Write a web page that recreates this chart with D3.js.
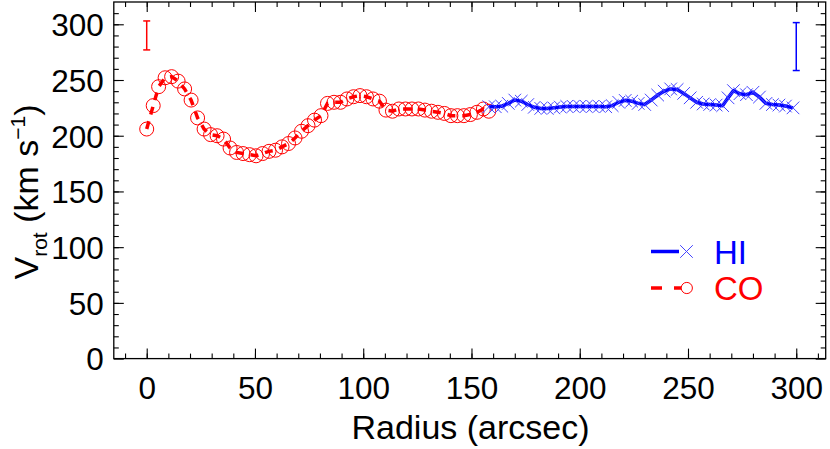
<!DOCTYPE html>
<html>
<head>
<meta charset="utf-8">
<script src="https://d3js.org/d3.v7.min.js"></script>
<style>
  html, body { margin: 0; padding: 0; background: #fff; }
  svg { display: block; }
  text { font-family: "Liberation Sans", Arial, Helvetica, sans-serif; }
</style>
</head>
<body>
<svg id="chart" width="830" height="449"></svg>
<script>
// ---- data ----
const coRadius = [0, 3, 5.5, 8.5, 11.5, 14.5, 17.5, 20.5, 23.5, 26.5, 29.5, 32.5, 35.5, 38.5, 41.5, 44.5, 47.5, 50.5, 53.5, 56.5, 59.5, 62.5, 65.5, 68.5, 71.5, 74.5, 77.5, 80.5, 83.5, 86.5, 89.5, 92.5, 95.5, 98.5, 101.5, 104.5, 107.5, 110.5, 113.5, 116.5, 119.5, 122.5, 125.5, 128.5, 131.5, 134.5, 137.5, 140.5, 143.5, 146.5, 149.5, 152.5, 155.5, 158];
const coVrot   = [206, 227, 244, 252, 253, 249, 242, 232, 216, 206, 201, 200, 197, 189, 185, 184, 183, 182, 184, 186, 187, 190, 193, 198, 204, 209, 214, 218, 229, 230, 230, 233, 235, 236, 235, 233, 231, 223, 222, 224, 224, 224, 224, 223, 222, 221, 220, 218, 218, 218, 219, 221, 224, 222];

const hiRadius = [158, 161, 164, 167, 170, 173, 176, 179, 182, 185, 188, 191, 194, 197, 200, 203, 206, 209, 212, 215, 218, 221, 224, 227, 230, 233, 236, 239, 242, 245, 248, 251, 254, 257, 260, 263, 266, 268.5, 271, 274, 277, 280, 283, 286, 289, 292, 295, 298.5];
const hiVrot   = [226, 226, 226.5, 229, 232, 231, 228, 225.5, 224.5, 224.5, 225, 225.7, 226.3, 226.3, 226.3, 226.3, 226.3, 226.3, 226, 227, 230, 231.7, 231, 229, 228, 232, 236.5, 240, 242, 241.5, 238, 234, 230, 228.5, 228, 227.5, 227, 234, 240.5, 237.7, 236.8, 239, 234.7, 229, 228, 227.5, 226.6, 225];

// representative error bars: [radius, centre, half-length]
const coError = [0, 290, 13];
const hiError = [300, 280, 21.5];

const xTicks = [0, 50, 100, 150, 200, 250, 300];
const yTicks = [0, 50, 100, 150, 200, 250, 300];
const legendLabels = ["HI", "CO"];

// ---- layout ----
const L = 113.8, R = 825.7, T = 2, B = 358.6;
const x = d3.scaleLinear().domain([-15.2, 313.6]).range([L, R]);
const y = d3.scaleLinear().domain([0, 320]).range([B, T]);

const svg = d3.select("#chart");
const red = "#ff0000", blue = "#0000ff";

// frame
svg.append("rect").attr("x", L).attr("y", T).attr("width", R - L).attr("height", B - T)
  .attr("fill", "none").attr("stroke", "#000").attr("stroke-width", 1.3);

// ticks (inward on all sides)
const xMinor = d3.range(-10, 311, 10);
const yMinor = d3.range(10, 320, 10);
function addAxis(axisFn, scale, ticks, minor, pos, label) {
  const gMinor = svg.append("g").attr("transform", pos)
    .call(axisFn(scale).tickValues(minor).tickSize(5).tickFormat(""));
  const gMajor = svg.append("g").attr("transform", pos)
    .call(axisFn(scale).tickValues(ticks).tickSize(10).tickFormat(label ? d3.format("d") : ""));
  [gMinor, gMajor].forEach(g => {
    g.select(".domain").remove();
    g.selectAll(".tick line").attr("stroke", "#000").attr("stroke-width", 1.1);
  });
  return gMajor;
}
const tickFont = 31.5;
const gb = addAxis(d3.axisTop, x, xTicks, xMinor, `translate(0,${B})`, true);
gb.selectAll(".tick text").attr("y", 40.5).attr("dy", 0).attr("font-size", tickFont).attr("fill", "#000");
addAxis(d3.axisBottom, x, xTicks, xMinor, `translate(0,${T})`, false);
const gl = addAxis(d3.axisRight, y, yTicks, yMinor, `translate(${L},0)`, true);
gl.selectAll(".tick text").attr("x", -10).attr("dy", "0.36em").attr("text-anchor", "end")
  .attr("font-size", tickFont).attr("fill", "#000");
addAxis(d3.axisLeft, y, yTicks, yMinor, `translate(${R},0)`, false);

// axis titles
svg.append("text").attr("x", 470.5).attr("y", 439).attr("text-anchor", "middle")
  .attr("font-size", 34).attr("fill", "#000").text("Radius (arcsec)");
const yt = svg.append("text").attr("transform", `translate(38,192) rotate(-90)`)
  .attr("text-anchor", "middle").attr("font-size", 34).attr("fill", "#000");
yt.append("tspan").text("V");
yt.append("tspan").attr("font-size", 21).attr("dy", 9).text("rot");
yt.append("tspan").attr("dy", -9).text(" (km s");
yt.append("tspan").attr("font-size", 21).attr("dy", -13).text("−1");
yt.append("tspan").attr("dy", 13).text(")");

// CO series
const coData = coRadius.map((r, i) => [r, coVrot[i]]);
svg.append("g").selectAll("circle").data(coData).join("circle")
  .attr("cx", d => x(d[0])).attr("cy", d => y(d[1])).attr("r", 7)
  .attr("fill", "none").attr("stroke", red).attr("stroke-width", 1);
svg.append("path").datum(coData)
  .attr("d", d3.line().x(d => x(d[0])).y(d => y(d[1])))
  .attr("fill", "none").attr("stroke", red).attr("stroke-width", 3.5).attr("stroke-dasharray", "8,7");

// HI series
const hiData = hiRadius.map((r, i) => [r, hiVrot[i]]);
svg.append("path").datum(hiData)
  .attr("d", d3.line().x(d => x(d[0])).y(d => y(d[1])))
  .attr("fill", "none").attr("stroke", blue).attr("stroke-width", 3.5);
const cs = 6.3;
const crossPath = d => {
  const cx = x(d[0]), cy = y(d[1]);
  return `M${cx - cs},${cy - cs}L${cx + cs},${cy + cs}M${cx - cs},${cy + cs}L${cx + cs},${cy - cs}`;
};
svg.append("g").selectAll("path").data(hiData).join("path")
  .attr("d", crossPath).attr("stroke", "#4444ff").attr("stroke-width", 1).attr("fill", "none");

// error bars
function errBar(e, color) {
  const cx = x(e[0]), y1 = y(e[1] + e[2]), y2 = y(e[1] - e[2]);
  const g = svg.append("g").attr("stroke", color).attr("stroke-width", 1.5);
  g.append("line").attr("x1", cx).attr("x2", cx).attr("y1", y1).attr("y2", y2);
  g.append("line").attr("x1", cx - 3.5).attr("x2", cx + 3.5).attr("y1", y1).attr("y2", y1);
  g.append("line").attr("x1", cx - 3.5).attr("x2", cx + 3.5).attr("y1", y2).attr("y2", y2);
}
errBar(coError, red);
errBar(hiError, blue);

// legend
const lg = svg.append("g");
const ly = [251.5, 288];
lg.append("line").attr("x1", 651).attr("x2", 679).attr("y1", ly[0]).attr("y2", ly[0])
  .attr("stroke", blue).attr("stroke-width", 3.5);
lg.append("path").attr("d", `M${686.5 - cs},${ly[0] - cs}L${686.5 + cs},${ly[0] + cs}M${686.5 - cs},${ly[0] + cs}L${686.5 + cs},${ly[0] - cs}`)
  .attr("stroke", "#4444ff").attr("stroke-width", 1);
lg.append("line").attr("x1", 651).attr("x2", 681).attr("y1", ly[1]).attr("y2", ly[1])
  .attr("stroke", red).attr("stroke-width", 3.5).attr("stroke-dasharray", "11,12");
lg.append("circle").attr("cx", 686.8).attr("cy", ly[1]).attr("r", 5.6)
  .attr("fill", "#fff").attr("stroke", red).attr("stroke-width", 1);
lg.append("text").attr("x", 714).attr("y", ly[0] + 12).attr("font-size", 33).attr("fill", blue).text(legendLabels[0]);
lg.append("text").attr("x", 714).attr("y", ly[1] + 12).attr("font-size", 33).attr("fill", red).text(legendLabels[1]);
</script>
</body>
</html>
